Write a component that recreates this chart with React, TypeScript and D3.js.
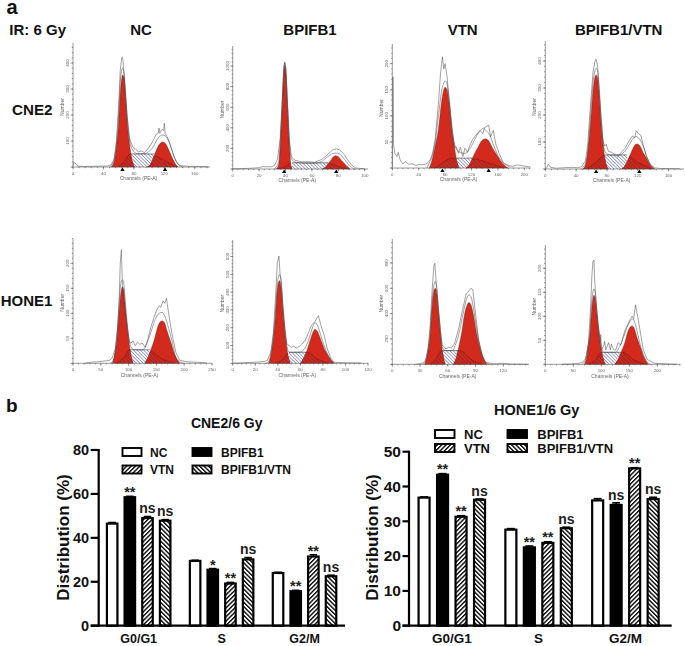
import React from "react";
import * as d3 from "d3";

type P = [number, number];
const FONT = "'Liberation Sans', Arial, sans-serif";

// ---- Bar chart data ----
const phases = ["G0/G1", "S", "G2/M"];
const groups = ["NC", "BPIFB1", "VTN", "BPIFB1/VTN"];
const cneValues = [[46.5, 58.5, 49, 47.8], [29.5, 25.5, 19.2, 30.2], [24, 15.7, 31.5, 22.5]];
const cneErrors = [[0.5, 0.4, 0.7, 0.5], [0.3, 0.5, 0.5, 0.8], [0.3, 0.4, 0.8, 0.5]];
const cneMarks = [["", "**", "ns", "ns"], ["", "*", "**", "ns"], ["", "**", "**", "ns"]];
const honeValues = [[36.8, 43.4, 31.3, 36.2], [27.6, 22.5, 23.8, 28], [36, 34.7, 45.2, 36.4]];
const honeErrors = [[0.2, 0.3, 0.3, 0.2], [0.3, 0.4, 0.3, 0.3], [0.5, 0.6, 0.2, 0.5]];
const honeMarks = [["", "**", "**", "ns"], ["", "**", "**", "ns"], ["", "ns", "**", "ns"]];
const cneTicks = [0, 20, 40, 60, 80];
const honeTicks = [0, 10, 20, 30, 40, 50];

// ---- Flow histogram data: [channel, count] ----
const cneNcG1: P[] = [[50,0],[54,20],[57,75],[60,170],[62,280],[64,340],[65,354],[67,345],[69,270],[71,180],[74,95],[77,35],[81,0]];
const cneNcG2: P[] = [[97,0],[102,12],[106,38],[110,68],[115,92],[118,96],[122,88],[126,64],[130,38],[134,14],[138,0]];
const cneNcS: number[] = [75, 107, 50];
const cneNcH1: P[] = [[59,0],[67,20],[75,50],[82,25],[90,0]];
const cneNcH2: P[] = [[97,0],[107,42],[120,25],[136,0]];
const cneNcFit: P[] = [[48,0],[53,20],[57,85],[60,200],[62,320],[64,375],[65,380],[67,365],[69,290],[71,200],[74,110],[78,68],[84,52],[95,52],[100,60],[106,80],[112,112],[118,123],[124,110],[130,65],[135,25],[140,5],[145,0]];
const cneNcRaw: P[] = [[0,5],[1,18],[4,12],[7,3],[15,2],[30,3],[45,4],[50,8],[54,30],[57,100],[60,240],[62,370],[64,420],[65,422],[66,400],[68,310],[71,200],[74,115],[76,95],[79,75],[82,70],[86,58],[90,62],[94,55],[98,68],[102,85],[106,105],[109,125],[112,130],[113,150],[114,130],[117,145],[119,140],[120,168],[121,130],[124,115],[128,85],[132,45],[136,20],[140,6],[150,3],[165,2],[178,1]];

const cneBpG1: P[] = [[33,0],[35,50],[36,220],[37.5,600],[38.7,930],[39.5,1006],[40.3,930],[41.5,600],[43,220],[44,50],[45,0]];
const cneBpG2: P[] = [[68,0],[71,28],[73.5,70],[76,115],[78,129],[80,120],[83,75],[86,35],[89,0]];
const cneBpS: number[] = [45, 72.5, 60];
const cneBpH1: P[] = [[33,0],[40,25],[45,64],[48,0]];
const cneBpH2: P[] = [[67,0],[72.5,55],[80,25],[87,0]];
const cneBpFit: P[] = [[31,0],[33,20],[35,80],[36,260],[37.5,640],[38.7,960],[39.5,1030],[40.3,950],[41.5,620],[43,250],[44.5,100],[47,68],[55,55],[62,55],[67,70],[71,110],[75,145],[78,155],[81,145],[84,105],[87,55],[90,15],[93,0]];
const cneBpRaw: P[] = [[0,3],[10,5],[20,12],[22,22],[30,22],[32,40],[34,100],[36,300],[37.5,660],[38.7,990],[39.5,1040],[40.3,970],[41.5,640],[43,270],[44.5,120],[47,85],[52,70],[57,70],[62,65],[67,90],[71,130],[74,165],[76,190],[79,195],[81,185],[84,150],[87,90],[90,40],[93,10],[100,2]];

const cneVtG1: P[] = [[56,0],[60,14],[65,42],[70,75],[75,130],[78,150],[80,155],[83,150],[86,125],[90,75],[94,42],[97,18],[101,0]];
const cneVtG2: P[] = [[112,0],[118,9],[124,26],[130,40],[136,53],[141,56],[146,52],[152,38],[158,26],[165,12],[175,0]];
const cneVtS: number[] = [90, 125, 19];
const cneVtH1: P[] = [[65,0],[78,12],[90,19],[102,12],[115,0]];
const cneVtH2: P[] = [[105,0],[125,17],[145,10],[170,0]];
const cneVtFit: P[] = [[52,0],[57,12],[61,25],[65,50],[70,100],[75,150],[78,163],[80,167],[83,160],[86,135],[90,85],[94,48],[100,32],[110,28],[118,38],[125,55],[132,70],[138,76],[142,72],[148,62],[154,42],[160,24],[168,10],[178,2]];
const cneVtRaw: P[] = [[0,2],[1,175],[2,45],[4,28],[7,22],[9,30],[12,15],[16,8],[20,12],[25,7],[30,8],[36,5],[40,7],[46,6],[52,8],[57,15],[61,28],[65,55],[70,125],[73,180],[76,213],[78,190],[80,200],[83,175],[86,130],[90,75],[94,40],[97,40],[100,28],[103,40],[107,22],[110,38],[114,30],[117,42],[122,55],[128,65],[133,72],[137,66],[140,78],[146,82],[149,60],[153,72],[157,45],[162,28],[168,10],[176,5],[182,3],[190,6],[198,4],[209,2]];

const cneBvG1: P[] = [[49,0],[53,24],[56,85],[59,180],[62,290],[65,345],[66,348],[68,335],[70,270],[72,180],[75,90],[78,30],[82,0]];
const cneBvG2: P[] = [[99,0],[104,15],[108,40],[112,65],[116,88],[119,93],[123,85],[127,60],[131,42],[136,16],[142,0]];
const cneBvS: number[] = [77, 106, 52];
const cneBvH1: P[] = [[52,0],[65,22],[77,52],[85,25],[92,0]];
const cneBvH2: P[] = [[98,0],[106,49],[120,25],[138,0]];
const cneBvFit: P[] = [[46,0],[50,10],[53,30],[56,90],[59,210],[62,320],[65,370],[66,373],[68,360],[70,285],[72,200],[75,100],[78,62],[84,52],[96,52],[102,62],[108,85],[113,110],[118,120],[122,112],[127,85],[131,50],[136,18],[142,2]];
const cneBvRaw: P[] = [[0,2],[2,5],[4,18],[7,6],[14,3],[25,5],[35,6],[42,5],[47,8],[52,30],[55,90],[59,250],[62,360],[65,405],[66,406],[68,380],[70,300],[72,210],[75,105],[77,85],[79,92],[82,65],[86,62],[90,55],[94,45],[98,60],[103,75],[108,100],[113,122],[116,115],[118,142],[121,130],[124,125],[127,90],[131,50],[136,18],[142,4],[150,2],[175,1]];

const honeNcG1: P[] = [[71,0],[75,18],[79,48],[82,88],[85,130],[88,151],[89,153],[91,148],[94,115],[97,78],[100,48],[104,18],[108,0]];
const honeNcG2: P[] = [[129,0],[135,12],[141,30],[147,50],[153,75],[158,84],[160,85],[164,82],[170,62],[176,42],[182,20],[192,0]];
const honeNcS: number[] = [102, 138, 27];
const honeNcH1: P[] = [[78,0],[92,12],[102,27],[110,10],[118,0]];
const honeNcH2: P[] = [[125,0],[138,25],[158,10],[183,0]];
const honeNcFit: P[] = [[67,0],[72,5],[76,24],[79,54],[82,100],[85,150],[87,165],[89,167],[91,162],[94,125],[97,85],[100,54],[104,33],[110,27],[125,27],[133,40],[140,62],[148,88],[155,100],[160,102],[165,95],[172,70],[178,45],[184,15],[192,3],[200,0]];
const honeNcRaw: P[] = [[20,0],[30,2],[45,3],[60,5],[66,6],[71,12],[76,30],[80,70],[83,130],[85,200],[87,227],[88,190],[89,150],[92,110],[95,95],[98,70],[101,45],[104,40],[108,45],[112,35],[116,42],[120,38],[125,40],[130,32],[135,50],[140,72],[145,90],[150,105],[155,115],[158,112],[162,125],[165,120],[168,130],[172,100],[176,72],[180,48],[185,22],[192,6],[205,3],[225,2],[240,1]];

const honeBpG1: P[] = [[32,0],[34,50],[36,135],[38,270],[39.5,410],[41,460],[41.5,465],[43,420],[44.5,300],[46,190],[48,85],[51,0]];
const honeBpG2: P[] = [[60,0],[63,30],[66,75],[69,135],[72,185],[73,191],[75,180],[78,135],[81,85],[84,50],[87,20],[90,0]];
const honeBpS: number[] = [50, 66, 62];
const honeBpH1: P[] = [[38,0],[45,25],[50,62],[54,20],[58,0]];
const honeBpH2: P[] = [[58,0],[66,62],[75,25],[85,0]];
const honeBpFit: P[] = [[29,0],[32,10],[34,60],[36,150],[38,300],[39.5,440],[41,495],[41.5,498],[43,450],[44.5,320],[46,205],[48,100],[50,62],[58,62],[62,70],[66,110],[69,165],[72,220],[73,228],[75,215],[78,160],[81,100],[84,55],[87,22],[90,2]];
const honeBpRaw: P[] = [[0,0],[10,3],[18,6],[24,8],[28,10],[31,18],[34,70],[36,170],[38,370],[39.5,560],[41,603],[42,500],[43,470],[44.5,330],[46,215],[48,110],[50,100],[52,90],[54,95],[57,85],[60,100],[64,125],[67,170],[70,215],[73,235],[76,268],[78,220],[81,160],[84,80],[87,30],[90,6],[100,3],[114,2]];

const honeVtG1: P[] = [[35,0],[37,45],[39,120],[41,240],[43,450],[45,580],[46.5,600],[48,560],[50,400],[52,240],[54,115],[57,0]];
const honeVtG2: P[] = [[66,0],[69,50],[72,140],[75,250],[78,390],[81,470],[83,487],[85,470],[88,380],[91,250],[94,150],[98,55],[102,0]];
const honeVtS: number[] = [53, 73, 108];
const honeVtH1: P[] = [[41,0],[47,40],[53,108],[58,30],[62,0]];
const honeVtH2: P[] = [[64,0],[73,108],[85,40],[97,0]];
const honeVtFit: P[] = [[33,0],[35,12],[37,55],[39,135],[41,260],[43,480],[45,625],[46.5,653],[48,610],[50,430],[52,265],[54,140],[57,108],[65,108],[68,150],[72,240],[76,380],[80,510],[83,547],[85,535],[88,430],[91,290],[94,165],[98,60],[102,8],[106,0]];
const honeVtRaw: P[] = [[25,0],[30,5],[33,10],[36,35],[39,140],[41,320],[43,580],[45,780],[46,797],[47,690],[49,500],[52,275],[54,150],[56,140],[58,120],[61,135],[64,130],[67,160],[71,260],[76,430],[80,560],[83,580],[85,600],[87,590],[90,400],[93,210],[97,70],[101,15],[110,3],[120,8],[128,2],[147,0]];

const honeBvG1: P[] = [[70,0],[74,15],[77,38],[80,65],[83,115],[86,142],[87,144],[89,138],[92,105],[95,72],[99,38],[103,14],[107,0]];
const honeBvG2: P[] = [[124,0],[130,10],[136,27],[142,45],[148,70],[153,79],[155,80],[158,77],[164,55],[170,35],[176,15],[184,0]];
const honeBvS: number[] = [100, 139, 25];
const honeBvH1: P[] = [[77,0],[90,10],[100,25],[108,10],[115,0]];
const honeBvH2: P[] = [[125,0],[139,25],[158,9],[181,0]];
const honeBvFit: P[] = [[65,0],[70,5],[74,20],[77,42],[80,75],[83,130],[85,150],[87,157],[89,150],[92,115],[95,78],[99,45],[104,25],[125,25],[132,35],[140,58],[148,82],[154,93],[157,94],[162,78],[168,48],[174,24],[180,8],[188,0]];
const honeBvRaw: P[] = [[30,0],[50,1],[60,2],[67,5],[72,12],[77,45],[81,120],[83,180],[85,215],[87,217],[88,180],[91,125],[94,85],[97,55],[98,45],[99,62],[100,30],[104,38],[106,48],[108,30],[113,45],[116,30],[118,42],[122,30],[126,30],[130,45],[135,40],[142,70],[150,90],[155,100],[158,95],[161,124],[165,100],[170,65],[175,30],[182,10],[195,2],[235,0]];

const panels = [
  { id: "a1", x: [73, 210], y: [167, 43], xMax: 180, yMax: 477, xT: [0,40,80,120,160], yT: [100,200,300,400], arrows: [65,121], g1: cneNcG1, g2: cneNcG2, s: cneNcS, h1: cneNcH1, h2: cneNcH2, fit: cneNcFit, raw: cneNcRaw },
  { id: "a2", x: [232.7, 368], y: [169, 46], xMax: 102.5, yMax: 1194, xT: [0,20,40,60,80,100], yT: [200,400,600,800,1000], arrows: [39,78.5], g1: cneBpG1, g2: cneBpG2, s: cneBpS, h1: cneBpH1, h2: cneBpH2, fit: cneBpFit, raw: cneBpRaw },
  { id: "a3", x: [392.3, 530.7], y: [168, 44], xMax: 209.7, yMax: 237.7, xT: [0,40,80,120,160,200], yT: [50,100,150,200], arrows: [76,146], g1: cneVtG1, g2: cneVtG2, s: cneVtS, h1: cneVtH1, h2: cneVtH2, fit: cneVtFit, raw: cneVtRaw },
  { id: "a4", x: [545.3, 684], y: [169, 41], xMax: 180, yMax: 474, xT: [0,40,80,120,160], yT: [100,200,300,400], arrows: [66,122], g1: cneBvG1, g2: cneBvG2, s: cneBvS, h1: cneBvH1, h2: cneBvH2, fit: cneBvFit, raw: cneBvRaw },
  { id: "a5", x: [73, 212], y: [363.3, 238.3], xMax: 250, yMax: 250, xT: [0,50,100,150,200,250], yT: [50,100,150,200], arrows: [], g1: honeNcG1, g2: honeNcG2, s: honeNcS, h1: honeNcH1, h2: honeNcH2, fit: honeNcFit, raw: honeNcRaw },
  { id: "a6", x: [232.7, 368], y: [363.3, 240], xMax: 120, yMax: 693, xT: [0,20,40,60,80,100,120], yT: [100,200,300,400,500,600], arrows: [], g1: honeBpG1, g2: honeBpG2, s: honeBpS, h1: honeBpH1, h2: honeBpH2, fit: honeBpFit, raw: honeBpRaw },
  { id: "a7", x: [392.3, 529], y: [364.3, 239], xMax: 147.8, yMax: 989, xT: [0,30,60,90,120], yT: [200,400,600,800], arrows: [], g1: honeVtG1, g2: honeVtG2, s: honeVtS, h1: honeVtH1, h2: honeVtH2, fit: honeVtFit, raw: honeVtRaw },
  { id: "a8", x: [545.3, 680.7], y: [364.3, 245], xMax: 241.8, yMax: 248.5, xT: [0,50,100,150,200], yT: [50,100,150,200], arrows: [], g1: honeBvG1, g2: honeBvG2, s: honeBvS, h1: honeBvH1, h2: honeBvH2, fit: honeBvFit, raw: honeBvRaw },
];

const RED = "#d22a1f";
const AXIS = "#555";

function FlowPanel({ p }: { p: (typeof panels)[number] }) {
  const x = d3.scaleLinear().domain([0, p.xMax]).range(p.x);
  const y = d3.scaleLinear().domain([0, p.yMax]).range(p.y);
  const area = d3.area<P>().x(d => x(d[0])).y0(y(0)).y1(d => y(d[1])).curve(d3.curveMonotoneX);
  const smooth = d3.line<P>().x(d => x(d[0])).y(d => y(d[1])).curve(d3.curveMonotoneX);
  const jag = d3.line<P>().x(d => x(d[0])).y(d => y(d[1]));
  const stepX = p.xT[1] - p.xT[0];
  const stepY = p.yT[1] - p.yT[0];
  const minorX = d3.range(0, p.xMax + 0.01, stepX / 5);
  const minorY = d3.range(0, p.yMax + 0.01, stepY / 5);
  const cx = (p.x[0] + p.x[1]) / 2 - 3;
  const [s0, s1, sl] = p.s;
  return (
    <g>
      <clipPath id={`clip-${p.id}`}>
        <path d={area(p.g1) as string} />
        <path d={area(p.g2) as string} />
      </clipPath>
      <rect x={x(s0)} y={y(sl)} width={x(s1) - x(s0)} height={y(0) - y(sl)} fill="url(#sHatch)" />
      <path d={smooth([[s0, sl], [s1, sl]]) as string} fill="none" stroke="#333" strokeWidth={0.6} />
      <path d={area(p.g1) as string} fill={RED} stroke="#5a1510" strokeWidth={0.35} />
      <path d={area(p.g2) as string} fill={RED} stroke="#5a1510" strokeWidth={0.35} />
      <g clipPath={`url(#clip-${p.id})`}>
        <path d={area(p.h1) as string} fill="url(#hHatch)" stroke="#6e1a14" strokeWidth={0.5} />
        <path d={area(p.h2) as string} fill="url(#hHatch)" stroke="#6e1a14" strokeWidth={0.5} />
      </g>
      <path d={smooth(p.fit) as string} fill="none" stroke="#444" strokeWidth={0.5} />
      <path d={jag(p.raw) as string} fill="none" stroke="#444" strokeWidth={0.5} />
      <g stroke={AXIS} strokeWidth={0.6}>
        <line x1={p.x[0]} x2={p.x[1]} y1={p.y[0]} y2={p.y[0]} />
        <line x1={p.x[0]} x2={p.x[0]} y1={p.y[0]} y2={p.y[1]} />
        {minorX.map(v => <line key={v} x1={x(v)} x2={x(v)} y1={p.y[0]} y2={p.y[0] + 1.2} />)}
        {minorY.map(v => <line key={v} y1={y(v)} y2={y(v)} x1={p.x[0]} x2={p.x[0] - 1.2} />)}
        {p.xT.map(v => <line key={v} x1={x(v)} x2={x(v)} y1={p.y[0]} y2={p.y[0] + 2.4} />)}
        {[0, ...p.yT].map(v => <line key={v} y1={y(v)} y2={y(v)} x1={p.x[0]} x2={p.x[0] - 2.4} />)}
      </g>
      {p.arrows.map(a => (
        <path key={a} d={`M${x(a)},${p.y[0] + 0.5}l2.2,3.6h-4.4z`} fill="#000" />
      ))}
      <g fontFamily={FONT} fontSize={4.4} fill="#666">
        {p.xT.map(v => <text key={v} x={x(v)} y={p.y[0] + 7.6} textAnchor="middle">{v}</text>)}
        {p.yT.map(v => (
          <text key={v} transform={`translate(${p.x[0] - 4},${y(v)}) rotate(-90)`} textAnchor="middle">{v}</text>
        ))}
        <text x={cx} y={p.y[0] + 13.2} textAnchor="middle" fontSize={5}>Channels (PE-A)</text>
        <text transform={`translate(${p.x[0] - 9},${(p.y[0] + p.y[1]) / 2 + 2}) rotate(-90)`} textAnchor="middle" fontSize={5}>Number</text>
      </g>
    </g>
  );
}

const barFill = ["#fff", "#000", "url(#hatchA)", "url(#hatchB)"];

function BarChart(props: {
  values: number[][]; errors: number[][]; marks: string[][]; ticks: number[]; yMax: number;
  xLeft: number; xRange: [number, number]; xEnd: number; tickLen: number; labelX: number;
  title: string; titleX: number; titleY: number; titleFs: number; fs: number; catFs: number; legFs: number;
  legend: { xs: [number, number]; tx: [number, number]; ys: [number, number]; bw: number };
  starDy: number; nsDy: number;
}) {
  const { values, errors, marks, ticks, yMax, xLeft, xRange, xEnd, tickLen, labelX, title, titleX, titleY, titleFs, legend, starDy, nsDy, fs, catFs, legFs } = props;
  const y = d3.scaleLinear().domain([0, yMax]).range([625.7, yMax === 80 ? 450 : 451.7]);
  const x0 = d3.scaleBand().domain(phases).range(xRange);
  const inset = x0.bandwidth() * 0.074;
  const x1 = d3.scaleBand().domain(groups).range([inset, x0.bandwidth() - inset]).paddingInner(0.405).paddingOuter(0.2025);
  const leg = [
    { g: 0, col: 0, row: 0 }, { g: 1, col: 1, row: 0 }, { g: 2, col: 0, row: 1 }, { g: 3, col: 1, row: 1 },
  ];
  return (
    <g fontFamily={FONT} fontWeight="bold">
      <text x={titleX} y={titleY} textAnchor="middle" fontSize={titleFs} fill="#111">{title}</text>
      {phases.map((ph, i) => groups.map((g, j) => {
        const bx = (x0(ph) as number) + (x1(g) as number);
        const bw = x1.bandwidth();
        const top = y(values[i][j]);
        const errTop = y(values[i][j] + errors[i][j]);
        const m = marks[i][j];
        const isNs = m === "ns";
        return (
          <g key={g}>
            <line x1={bx + bw / 2} x2={bx + bw / 2} y1={top} y2={errTop} stroke="#000" strokeWidth={1.5} />
            <line x1={bx + 1.5} x2={bx + bw - 1.5} y1={errTop} y2={errTop} stroke="#000" strokeWidth={1.6} />
            <rect x={bx} y={top} width={bw} height={625.7 - top} fill={barFill[j]} stroke="#000" strokeWidth={2.2} />
            {m && (
              <text x={bx + bw / 2} y={errTop + (isNs ? nsDy : starDy)} textAnchor="middle"
                fontSize={isNs ? 14 : 14.5} fontWeight="bold" fill="#222">{m}</text>
            )}
          </g>
        );
      }))}
      <line x1={xLeft} x2={xLeft} y1={y(yMax) - 1} y2={626.8} stroke="#000" strokeWidth={2.2} />
      <line x1={xLeft - tickLen} x2={xEnd} y1={625.7} y2={625.7} stroke="#000" strokeWidth={2.2} />
      {ticks.map(t => (
        <g key={t}>
          <line x1={xLeft - tickLen} x2={xLeft} y1={y(t)} y2={y(t)} stroke="#000" strokeWidth={2.2} />
          <text x={xLeft - tickLen - 1.5} y={y(t) + 5.2} textAnchor="end" fontSize={fs} fill="#111">{t}</text>
        </g>
      ))}
      {phases.map(ph => (
        <text key={ph} x={(x0(ph) as number) + x0.bandwidth() / 2} y={643.3} textAnchor="middle" fontSize={catFs} fill="#111">{ph}</text>
      ))}
      <text transform={`translate(${labelX},537.5) rotate(-90)`} textAnchor="middle" fontSize={17} fill="#111">Distribution (%)</text>
      {leg.map(l => (
        <g key={l.g}>
          <rect x={legend.xs[l.col]} y={legend.ys[l.row]} width={legend.bw} height={8} fill={barFill[l.g]} stroke="#000" strokeWidth={1.9} />
          <text x={legend.tx[l.col]} y={legend.ys[l.row] + 8.7} fontSize={legFs} fill="#111">{groups[l.g]}</text>
        </g>
      ))}
    </g>
  );
}

export default function App() {
  return (
    <svg width={685} height={646} style={{ position: "absolute", left: 0, top: 0, display: "block", background: "#fff" }}>
      <defs>
        <pattern id="hatchA" width={3.1} height={3.1} patternUnits="userSpaceOnUse" patternTransform="rotate(45)">
          <rect width={3.1} height={3.1} fill="#fff" />
          <rect width={1.35} height={3.1} fill="#000" />
        </pattern>
        <pattern id="hatchB" width={3.1} height={3.1} patternUnits="userSpaceOnUse" patternTransform="rotate(-45)">
          <rect width={3.1} height={3.1} fill="#fff" />
          <rect width={1.35} height={3.1} fill="#000" />
        </pattern>
        <pattern id="sHatch" width={2.4} height={2.4} patternUnits="userSpaceOnUse" patternTransform="rotate(-45)">
          <rect width={2.4} height={2.4} fill="#fff" />
          <rect width={0.8} height={2.4} fill="#8d95c4" />
        </pattern>
        <pattern id="hHatch" width={2.8} height={2.8} patternUnits="userSpaceOnUse" patternTransform="rotate(-45)">
          <rect width={2.8} height={2.8} fill="#c92a20" />
          <rect width={0.55} height={2.8} fill="#8e2018" />
        </pattern>
        <filter id="soft" x="-2%" y="-2%" width="104%" height="104%">
          <feGaussianBlur stdDeviation={0.3} />
        </filter>
      </defs>

      <g fontFamily={FONT} fontWeight="bold" fill="#111">
        <text x={6.5} y={14} fontSize={20}>a</text>
        <text x={6} y={411.7} fontSize={19}>b</text>
        <text x={9.3} y={35} fontSize={15}>IR: 6 Gy</text>
        <text x={141} y={35} fontSize={15} textAnchor="middle">NC</text>
        <text x={310} y={35} fontSize={15} textAnchor="middle">BPIFB1</text>
        <text x={462.7} y={35} fontSize={15} textAnchor="middle">VTN</text>
        <text x={618.7} y={35} fontSize={15} textAnchor="middle">BPIFB1/VTN</text>
        <text x={32.3} y={115} fontSize={15.2} textAnchor="middle">CNE2</text>
        <text x={26.5} y={306} fontSize={15} textAnchor="middle">HONE1</text>
      </g>

      <g filter="url(#soft)">
        {panels.map(p => <FlowPanel key={p.id} p={p} />)}
      </g>

      <BarChart values={cneValues} errors={cneErrors} marks={cneMarks} ticks={cneTicks} yMax={80}
        xLeft={98.7} xRange={[97.2, 346]} xEnd={345} tickLen={8} labelX={69} fs={14.5} catFs={12.5} legFs={12}
        title="CNE2/6 Gy" titleX={226.7} titleY={427.7} titleFs={14} starDy={1} nsDy={-3.5}
        legend={{ xs: [122.5, 192.5], tx: [150, 221], ys: [448, 465.5], bw: 19 }} />
      <BarChart values={honeValues} errors={honeErrors} marks={honeMarks} ticks={honeTicks} yMax={50}
        xLeft={409} xRange={[408.4, 668.8]} xEnd={671.7} tickLen={6.5} labelX={378} fs={15.5} catFs={13.5} legFs={13}
        title="HONE1/6 Gy" titleX={536.7} titleY={414.7} titleFs={14.5} starDy={0.5} nsDy={-3}
        legend={{ xs: [435, 507.5], tx: [464, 537.3], ys: [430, 444], bw: 19.5 }} />
    </svg>
  );
}
